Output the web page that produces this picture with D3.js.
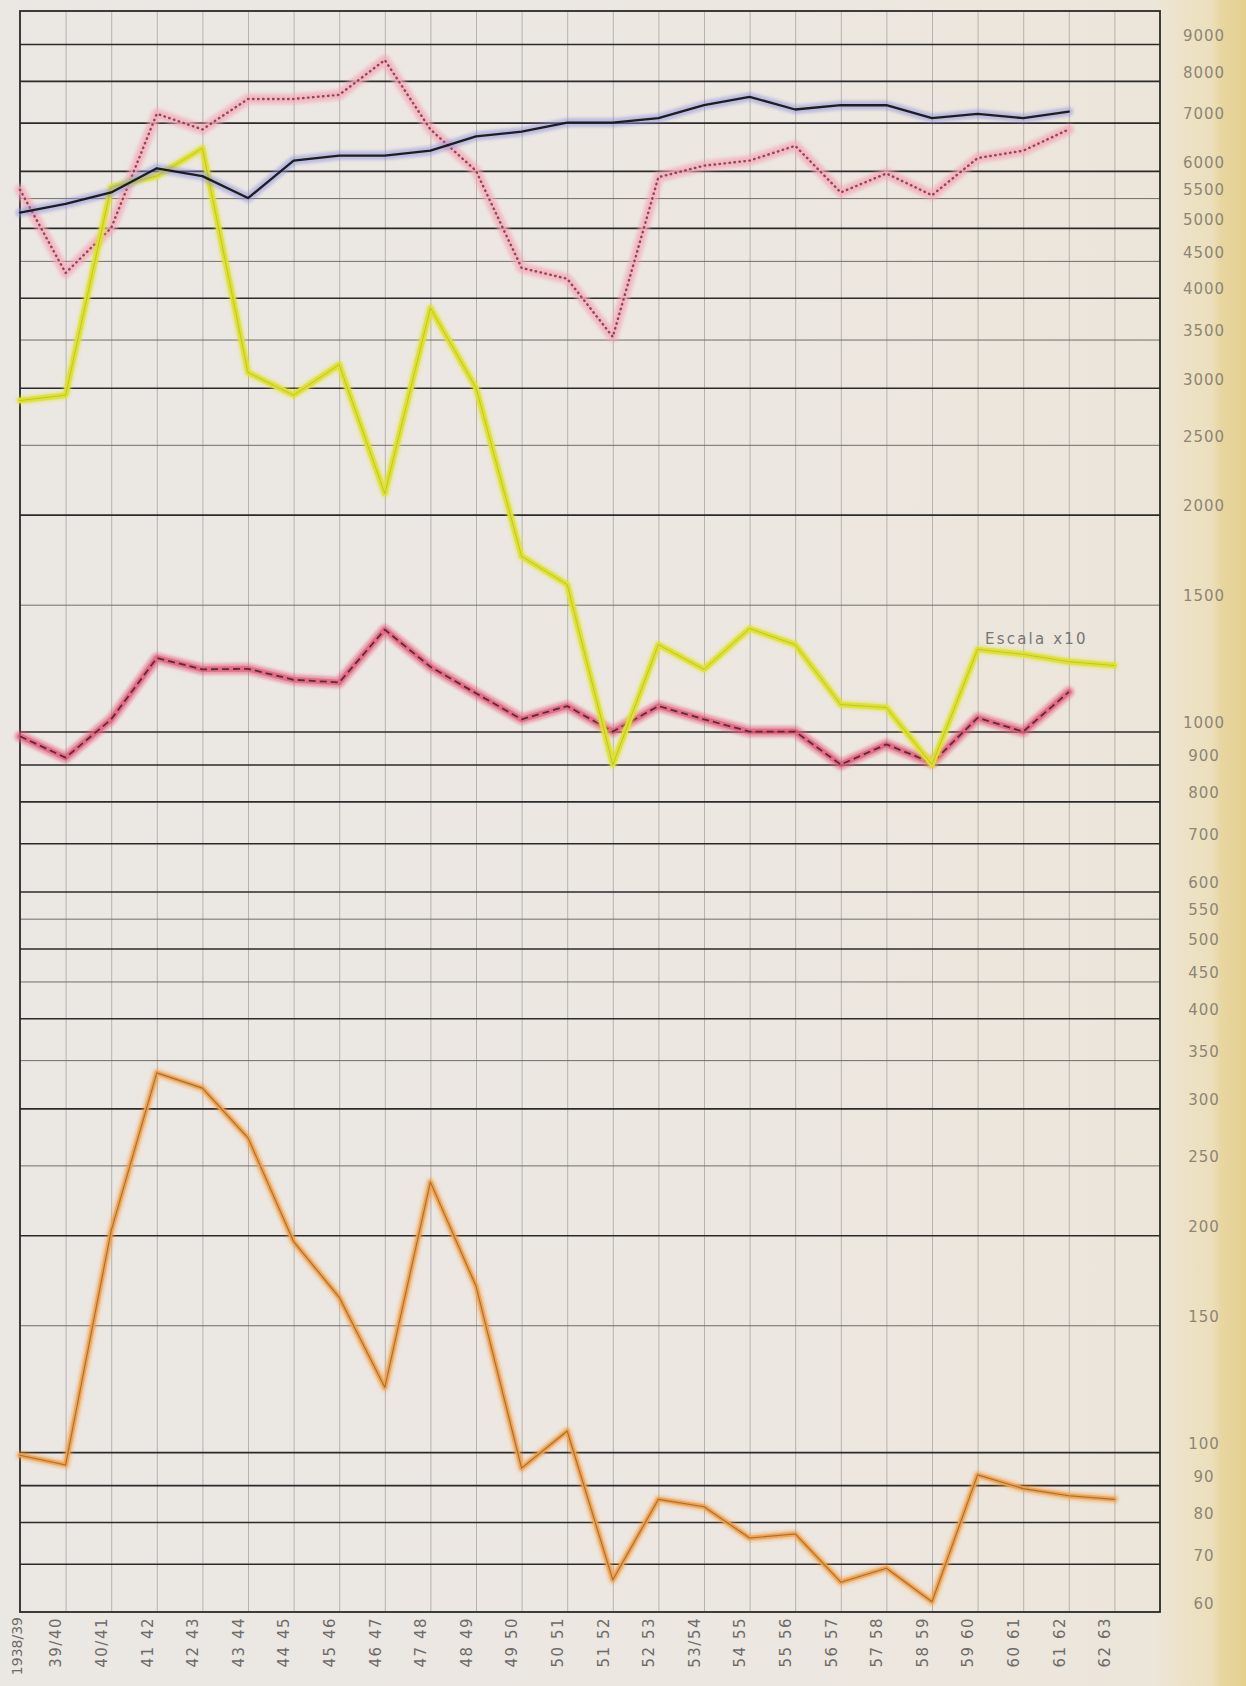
<!DOCTYPE html>
<html>
<head>
<meta charset="utf-8">
<script src="https://cdn.jsdelivr.net/npm/d3@7"></script>
<style>
  html, body { margin: 0; padding: 0; background: #ebe7e2; }
  svg { display: block; }
  .lbl { font-family: "DejaVu Sans", sans-serif; }
</style>
</head>
<body>
<svg id="chart" width="1246" height="1686"></svg>
<script>
// Crop seasons along the bottom
const seasons = ["1938/39","39/40","40/41","41 42","42 43","43 44","44 45","45 46","46 47","47 48",
  "48 49","49 50","50 51","51 52","52 53","53/54","54 55","55 56","56 57","57 58","58 59",
  "59 60","60 61","61 62","62 63"];

// Labelled rulings of the logarithmic scale
const yTicks = [9000,8000,7000,6000,5500,5000,4500,4000,3500,3000,2500,2000,1500,
  1000,900,800,700,600,550,500,450,400,350,300,250,200,150,100,90,80,70,60];
const lightTicks = [5500,4500,3500,2500,1500,550,450,350,250,150];

// Series (values on the log scale)
const blackSeries  = [5250,5400,5600,6050,5900,5500,6200,6300,6300,6400,6700,6800,
  7000,7000,7100,7400,7600,7300,7400,7400,7100,7200,7100,7250];
const dottedSeries = [5650,4330,5000,7200,6850,7550,7550,7650,8550,6850,6000,4400,
  4250,3530,5880,6100,6200,6500,5600,5950,5550,6250,6400,6850];
const yellowSeries = [2880,2930,5700,5900,6450,3150,2930,3230,2140,3870,3000,1750,
  1600,900,1320,1220,1390,1320,1090,1080,900,1300,1280,1250,1235];
const redSeries    = [985,920,1040,1265,1220,1222,1180,1170,1385,1230,1130,1040,
  1085,1000,1085,1040,1000,1000,900,960,905,1045,1000,1135];
const orangeSeries = [99,96,203,336,320,273,196,164,123,237,170,95,107,66.5,86,84,
  76,77,66,69,62,93,89,87,86];

const W = 1246, H = 1686;
const plotLeft = 20, plotRight = 1160, plotTop = 11, plotBottom = 1612;

const svg = d3.select("#chart");
const defs = svg.append("defs");

// paper tint, yellowing towards the right edge
const grad = defs.append("linearGradient").attr("id", "paper").attr("x1", 0).attr("x2", 1).attr("y1", 0).attr("y2", 0);
[[0, "#ebe7e3"], [0.6, "#ece7e1"], [0.925, "#ece5da"], [0.945, "#ede3ca"], [0.972, "#ecdfbc"],
 [0.98, "#e8d6a2"], [1, "#e4cf8c"]]
  .forEach(([o, c]) => grad.append("stop").attr("offset", o).attr("stop-color", c));
svg.append("rect").attr("width", W).attr("height", H).attr("fill", "url(#paper)");

const blur = defs.append("filter").attr("id", "soft").attr("x", "-5%").attr("y", "-5%").attr("width", "110%").attr("height", "110%");
blur.append("feGaussianBlur").attr("stdDeviation", 1.6);

const x = d3.scaleLinear().domain([0, 25]).range([plotLeft, plotRight]);
const y = d3.scaleLog().domain([60, 10000]).range([plotBottom, plotTop]);

// vertical rulings
const xGrid = svg.append("g").attr("transform", `translate(0,${plotBottom})`)
  .call(d3.axisBottom(x).tickValues(d3.range(1, 25)).tickSize(-(plotBottom - plotTop)).tickFormat(""));
xGrid.select(".domain").remove();
xGrid.selectAll("line").attr("stroke", "#a09e9b").attr("stroke-width", 1).attr("opacity", 0.7);

// horizontal rulings
const yGrid = svg.append("g").attr("transform", `translate(${plotRight},0)`)
  .call(d3.axisRight(y).tickValues(yTicks.filter(d => d !== 60)).tickSize(-(plotRight - plotLeft)).tickFormat(""));
yGrid.select(".domain").remove();
yGrid.selectAll(".tick line")
  .attr("stroke", d => lightTicks.includes(d) ? "#706e6a" : "#2b2b2b")
  .attr("stroke-width", d => lightTicks.includes(d) ? 1 : 1.6);

// frame
svg.append("rect").attr("x", plotLeft).attr("y", plotTop)
  .attr("width", plotRight - plotLeft).attr("height", plotBottom - plotTop)
  .attr("fill", "none").attr("stroke", "#2a2a2a").attr("stroke-width", 1.8);

// right-hand scale labels
const yLab = svg.append("g").attr("transform", `translate(${plotRight},0)`)
  .call(d3.axisRight(y).tickValues(yTicks).tickSize(0).tickFormat(d => String(d)));
yLab.select(".domain").remove();
yLab.selectAll("text")
  .attr("class", "lbl")
  .attr("x", 44).attr("y", -9).attr("dy", "0.35em")
  .attr("text-anchor", "middle")
  .attr("fill", "#8c8674").attr("font-size", 15).attr("letter-spacing", 1);

// season labels, written upwards
const xLab = svg.append("g").attr("transform", `translate(0,${plotBottom})`)
  .call(d3.axisBottom(x).tickValues(d3.range(25)).tickSize(0).tickFormat(i => seasons[i]));
xLab.select(".domain").remove();
xLab.selectAll("text")
  .attr("class", "lbl")
  .attr("x", 0).attr("y", 0).attr("dy", "0.35em")
  .attr("transform", i => i === 0 ? "translate(-3,5) rotate(-90)" : "translate(-10,5) rotate(-90)")
  .attr("text-anchor", "end")
  .attr("fill", "#6e6c69")
  .attr("font-size", i => i === 0 ? 14 : 15)
  .attr("letter-spacing", i => i === 0 ? 0 : 1.5);

const line = d3.line().x((d, i) => x(i)).y(d => y(d)).curve(d3.curveLinear);

function draw(data, layers) {
  layers.forEach(s => {
    const p = svg.append("path").datum(data).attr("d", line)
      .attr("fill", "none").attr("stroke", s.color).attr("stroke-width", s.width)
      .attr("stroke-linejoin", "round").attr("stroke-linecap", s.cap || "round")
      .attr("opacity", s.opacity == null ? 1 : s.opacity);
    if (s.dash) p.attr("stroke-dasharray", s.dash);
    if (s.blur) p.attr("filter", "url(#soft)");
  });
}

// red band with dashed pencil line
draw(redSeries, [
  { color: "#e65a7c", width: 11, opacity: 0.55, blur: true },
  { color: "#df4f6f", width: 5.5, opacity: 0.6 },
  { color: "#4a2530", width: 1.8, dash: "7 4", cap: "butt", opacity: 0.9 }
]);

// orange band
draw(orangeSeries, [
  { color: "#f39a3e", width: 8, opacity: 0.5, blur: true },
  { color: "#f0a04a", width: 4.5, opacity: 0.9 },
  { color: "#8d5f2a", width: 1.1, opacity: 0.75 }
]);

// pink band with dotted pencil line
draw(dottedSeries, [
  { color: "#f4a6b6", width: 11, opacity: 0.6, blur: true },
  { color: "#f2b0bd", width: 5.5, opacity: 0.55 },
  { color: "#8a3848", width: 2.4, dash: "0.5 4.5", opacity: 0.9 }
]);

// yellow band ("Escala x10")
draw(yellowSeries, [
  { color: "#dfe33a", width: 8, opacity: 0.55, blur: true },
  { color: "#dde12e", width: 5.5, opacity: 0.95 },
  { color: "#8e8f22", width: 0.8, opacity: 0.45 }
]);

// black line with blue haze
draw(blackSeries, [
  { color: "#8b8fe0", width: 9, opacity: 0.5, blur: true },
  { color: "#151515", width: 2.3, opacity: 0.95 }
]);

svg.append("text").attr("class", "lbl")
  .attr("x", 985).attr("y", 644)
  .attr("fill", "#767676").attr("font-size", 15).attr("letter-spacing", 2.2)
  .text("Escala x10");
</script>
</body>
</html>
